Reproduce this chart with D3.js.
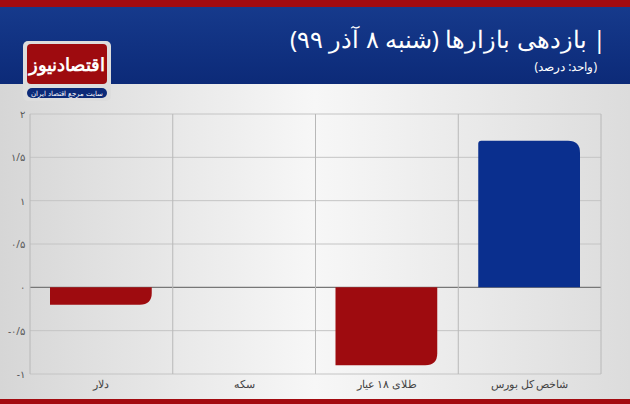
<!DOCTYPE html>
<html><head><meta charset="utf-8">
<script src="https://cdn.jsdelivr.net/npm/d3@7"></script>
<style>body{margin:0;overflow:hidden}</style>
</head><body>
<script>
// chart data
var categories = ["دلار", "سکه", "طلای ۱۸ عیار", "شاخص کل بورس"];
var values = [-0.2, 0, -0.9, 1.69];
var colors = ["#9e0b0f", "#9e0b0f", "#9e0b0f", "#0a2f8e"];
var ticks = [2, 1.5, 1, 0.5, 0, -0.5, -1];
var tickLabels = ["۲", "۱/۵", "۱", "۰/۵", "۰", "-۰/۵", "-۱"];

var W = 630, H = 404;
var svg = d3.select("body").append("svg").attr("width", W).attr("height", H);
var defs = svg.append("defs");
var g1 = defs.append("linearGradient").attr("id", "bg").attr("x1", 0).attr("x2", 1);
g1.append("stop").attr("offset", 0).attr("stop-color", "#d6d6d6");
g1.append("stop").attr("offset", 0.5).attr("stop-color", "#f7f7f7");
g1.append("stop").attr("offset", 1).attr("stop-color", "#dcdcdc");
var g2 = defs.append("linearGradient").attr("id", "hd").attr("x1", 0).attr("x2", 0).attr("y1", 0).attr("y2", 1);
g2.append("stop").attr("offset", 0).attr("stop-color", "#163a8c");
g2.append("stop").attr("offset", 1).attr("stop-color", "#0c2a78");

svg.append("rect").attr("width", W).attr("height", H).attr("fill", "url(#bg)");
svg.append("rect").attr("y", 6).attr("width", W).attr("height", 78).attr("fill", "url(#hd)");
svg.append("rect").attr("width", W).attr("height", 7).attr("fill", "#a30b10");
svg.append("rect").attr("y", 399).attr("width", W).attr("height", 5).attr("fill", "#a30b10");

svg.append("text").attr("x", 606).attr("y", 48).attr("text-anchor", "start")
  .attr("direction", "rtl").attr("fill", "#fff").attr("font-family", "Noto Sans")
  .attr("font-size", 24).text("| بازدهی بازارها (شنبه ۸ آذر ۹۹)");
svg.append("text").attr("x", 597).attr("y", 71).attr("text-anchor", "start")
  .attr("direction", "rtl").attr("fill", "#fff").attr("font-family", "Noto Sans")
  .attr("font-size", 12).text("(واحد: درصد)");

// logo
svg.append("rect").attr("x", 23).attr("y", 41).attr("width", 88).attr("height", 60).attr("rx", 5).attr("fill", "#ddd");
svg.append("rect").attr("x", 27).attr("y", 44).attr("width", 80).attr("height", 40).attr("rx", 4).attr("fill", "#9e0b0f");
svg.append("text").attr("x", 67).attr("y", 71).attr("text-anchor", "middle").attr("fill", "#fff")
  .attr("font-family", "Noto Sans").attr("font-weight", "bold").attr("font-size", 18).text("اقتصادنیوز");
svg.append("rect").attr("x", 27).attr("y", 88).attr("width", 80).attr("height", 10).attr("rx", 5).attr("fill", "#0c2a78");
svg.append("text").attr("x", 67).attr("y", 95.5).attr("text-anchor", "middle").attr("fill", "#fff")
  .attr("font-family", "Noto Sans").attr("font-size", 6.5).text("سایت مرجع اقتصاد ایران");

var pLeft = 30, pRight = 601, pTop = 114, pBottom = 374;
var x = d3.scaleBand().domain(categories).range([pLeft, pRight]);
var y = d3.scaleLinear().domain([-1, 2]).range([pBottom, pTop]);

var grid = svg.append("g");
grid.selectAll("line.h").data(ticks).enter().append("line")
  .attr("x1", pLeft).attr("x2", pRight).attr("y1", d => y(d)).attr("y2", d => y(d))
  .attr("stroke", d => d === 0 ? "#777" : "#c4c4c4").attr("stroke-width", d => d === 0 ? 1.2 : 1);
var vx = categories.map(c => x(c)).concat([pRight]);
grid.selectAll("line.v").data(vx).enter().append("line")
  .attr("x1", d => d).attr("x2", d => d).attr("y1", pTop).attr("y2", pBottom)
  .attr("stroke", "#b8b8b8");

svg.selectAll("text.tick").data(ticks).enter().append("text")
  .attr("x", 25).attr("y", d => y(d) + 4).attr("text-anchor", "end")
  .attr("font-family", "Noto Sans").attr("font-size", 10).attr("fill", "#555")
  .text((d, i) => tickLabels[i]);

svg.selectAll("text.cat").data(categories).enter().append("text")
  .attr("x", d => x(d) + x.bandwidth() / 2).attr("y", 388).attr("text-anchor", "middle")
  .attr("font-family", "Noto Sans").attr("font-size", 11).attr("fill", "#444").text(d => d);

// bars with rounded outer-right corner
function barPath(i) {
  var bx = x(categories[i]) + 20, bw = x.bandwidth() - 41;
  var y0 = y(0), y1 = y(values[i]);
  var h = Math.abs(y1 - y0);
  if (h < 0.5) return "";
  var r = Math.min(12, h);
  if (values[i] < 0) {
    return "M" + bx + "," + y0 + "H" + (bx + bw) + "V" + (y1 - r) +
      "Q" + (bx + bw) + "," + y1 + " " + (bx + bw - r) + "," + y1 + "H" + bx + "Z";
  }
  return "M" + bx + "," + y0 + "V" + (y1 + 3) + "Q" + bx + "," + y1 + " " + (bx + 3) + "," + y1 +
    "H" + (bx + bw - r) + "Q" + (bx + bw) + "," + y1 + " " + (bx + bw) + "," + (y1 + r) + "V" + y0 + "Z";
}
svg.selectAll("path.bar").data(values).enter().append("path")
  .attr("d", (d, i) => barPath(i)).attr("fill", (d, i) => colors[i]);
</script>
</body></html>
